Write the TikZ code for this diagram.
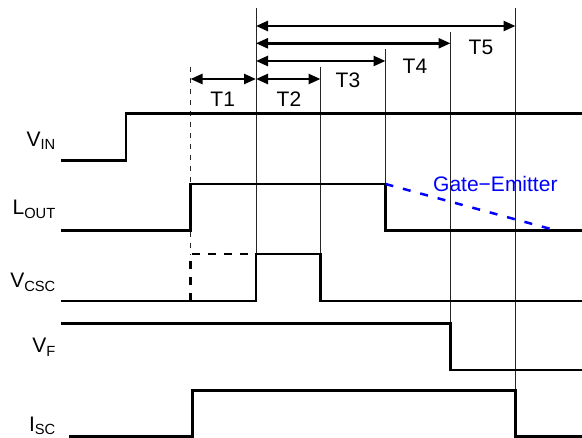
\documentclass[tikz,border=0pt]{standalone}
\usepackage{fontspec}
\setmainfont{Liberation Sans}
\usetikzlibrary{arrows.meta}
\tikzset{
  wave/.style={line width=2.5pt, line join=miter},
  tick/.style={line width=0.9pt, black!85},
  span/.style={line width=2.5pt, {Triangle[length=12pt,width=10pt]}-{Triangle[length=12pt,width=10pt]}},
  lbl/.style={inner sep=0pt, anchor=base east, font=\fontsize{21}{24}\selectfont},
  tlbl/.style={inner sep=0pt, font=\fontsize{21}{24}\selectfont}
}

\begin{document}
\begin{tikzpicture}[x=1pt,y=-1pt]
    \useasboundingbox (0,0) rectangle (582,438);
    % time marks
    \coordinate (t0) at (190.5,66.7);
    \coordinate (t1) at (256,8.3);
    \coordinate (t2) at (320.5,66.7);
    \coordinate (t3) at (385.5,49.3);
    \coordinate (t4) at (450.5,31.7);
    \coordinate (t5) at (515.5,8.3);
    \draw[tick, dash pattern=on 5pt off 6pt] (t0) -- (t0 |- 0,254);
    \draw[tick] (t1) -- (t1 |- 0,254);
    \draw[tick] (t2) -- (t2 |- 0,254);
    \draw[tick] (t3) -- (t3 |- 0,184);
    \draw[tick] (t4) -- (t4 |- 0,323.5);
    \draw[tick] (t5) -- (t5 |- 0,390.7);
    % intervals
    \draw[span] (t0 |- 0,79) -- (t1 |- 0,79);
    \draw[span] (t1 |- 0,79) -- (t2 |- 0,79);
    \draw[span] (t1 |- 0,61) -- (t3 |- 0,61);
    \draw[span] (t1 |- 0,43.3) -- (t4 |- 0,43.3);
    \draw[span] (t1 |- 0,26) -- (t5 |- 0,26);
    \node[tlbl] (T1) at (222.7,99) {T1};
    \node[tlbl] (T2) at (289,99) {T2};
    \node[tlbl] (T3) at (348,80.7) {T3};
    \node[tlbl] (T4) at (415,66.7) {T4};
    \node[tlbl] (T5) at (481,47.7) {T5};
    % signal names
    \node[lbl] (vin) at (56,146.7) {V\textsubscript{IN}};
    \node[lbl] (lout) at (56,215) {L\textsubscript{OUT}};
    \node[lbl] (vcsc) at (56,288) {V\textsubscript{CSC}};
    \node[lbl] (vf) at (56,353) {V\textsubscript{F}};
    \node[lbl] (isc) at (56,431.5) {I\textsubscript{SC}};
    % waveforms
    \draw[wave] (61,160.7) -- (126,160.7) -- (126,113.5) -- (582,113.5);
    \draw[wave] (61,230.7) -- (190.5,230.7) -- (190.5,184) -- (385.5,184) -- (385.5,230.7) -- (582,230.7);
    \draw[wave] (61,301) -- (256,301) -- (256,254) -- (320.5,254) -- (320.5,301) -- (582,301);
    \draw[wave, dash pattern=on 8pt off 8pt] (190.5,301) -- (190.5,254) -- (256,254);
    \draw[wave] (61,323.5) -- (450.5,323.5) -- (450.5,370) -- (582,370);
    \draw[wave] (69,436.7) -- (192.3,436.7) -- (192.3,390.7) -- (515.5,390.7) -- (515.5,436.7) -- (582,436.7);
    % slow turn-off
    \draw[wave, blue, dash pattern=on 8pt off 10pt] (385.5,184) -- (557,230.7);
    \node[tlbl, blue, anchor=base west] (ge) at (433,192) {Gate−Emitter};
\end{tikzpicture}
\end{document}
